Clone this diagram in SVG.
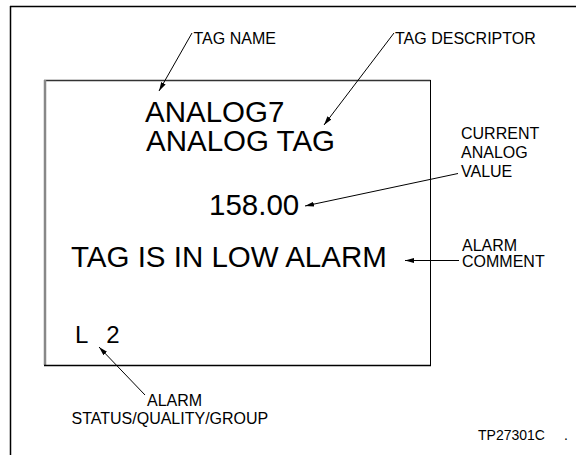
<svg xmlns="http://www.w3.org/2000/svg" width="576" height="455" viewBox="0 0 576 455">
<defs>
<style>
.big{font-family:"Liberation Sans",Arial,sans-serif;font-size:29.5px;fill:#000}
.lbl{font-family:"Liberation Sans",Arial,sans-serif;font-size:16px;fill:#000}
.sm{font-family:"Liberation Sans",Arial,sans-serif;font-size:14px;fill:#000}
.lead{stroke:#000;stroke-width:1;fill:none;marker-end:url(#ah)}
</style>
<marker id="ah" markerUnits="userSpaceOnUse" markerWidth="10" markerHeight="6" refX="9" refY="2.5" orient="auto">
<path d="M0,0 L9,2.5 L0,5 Z" fill="#000"/>
</marker>
</defs>
<rect x="0" y="0" width="576" height="455" fill="#fff"/>
<g id="frame">
<line x1="10.5" y1="6" x2="10.5" y2="455" stroke="#000" stroke-width="1.5"/>
<line x1="10" y1="6.5" x2="576" y2="6.5" stroke="#000" stroke-width="1.5"/>
</g>
<g id="screen">
<line x1="44" y1="80.5" x2="430.5" y2="80.5" stroke="#333" stroke-width="1.5"/>
<line x1="45" y1="80" x2="45" y2="365" stroke="#888" stroke-width="2.5"/>
<line x1="430.5" y1="80" x2="430.5" y2="365.5" stroke="#000" stroke-width="1"/>
<line x1="44" y1="365.5" x2="431" y2="365.5" stroke="#000" stroke-width="1.5"/>
</g>
<g id="tag-name-value"><text class="big" x="145" y="121.5">ANALOG7</text></g>
<g id="tag-descriptor-value"><text class="big" x="146" y="150.5">ANALOG TAG</text></g>
<g id="analog-value"><text class="big" x="209" y="215">158.00</text></g>
<g id="alarm-comment-value"><text class="big" x="71" y="266.5">TAG IS IN LOW ALARM</text></g>
<g id="status-value"><text class="big" x="75" y="343" style="font-size:24px;word-spacing:12px">L 2</text></g>
<g id="label-tag-name"><text class="lbl" x="193.5" y="43.5">TAG NAME</text></g>
<g id="label-tag-descriptor"><text class="lbl" x="395" y="43.5">TAG DESCRIPTOR</text></g>
<g id="label-current-value">
<text class="lbl" x="461" y="138.5">CURRENT</text>
<text class="lbl" x="461" y="158">ANALOG</text>
<text class="lbl" x="461" y="177">VALUE</text>
</g>
<g id="label-alarm-comment">
<text class="lbl" x="462" y="250.5">ALARM</text>
<text class="lbl" x="462" y="267">COMMENT</text>
</g>
<g id="label-alarm-status">
<text class="lbl" x="147" y="406">ALARM</text>
<text class="lbl" x="71.5" y="424">STATUS/QUALITY/GROUP</text>
</g>
<g id="figure-id">
<text class="sm" x="478" y="440">TP27301C</text>
<text class="sm" x="564" y="440">.</text>
</g>
<g id="connectors">
<line class="lead" x1="192" y1="33" x2="159" y2="91"/>
<line class="lead" x1="394" y1="33" x2="324" y2="125"/>
<line class="lead" x1="458" y1="173.5" x2="305" y2="206"/>
<line class="lead" x1="459" y1="260.5" x2="405" y2="260.5"/>
<line class="lead" x1="145" y1="395" x2="99" y2="347"/>
</g>
</svg>
